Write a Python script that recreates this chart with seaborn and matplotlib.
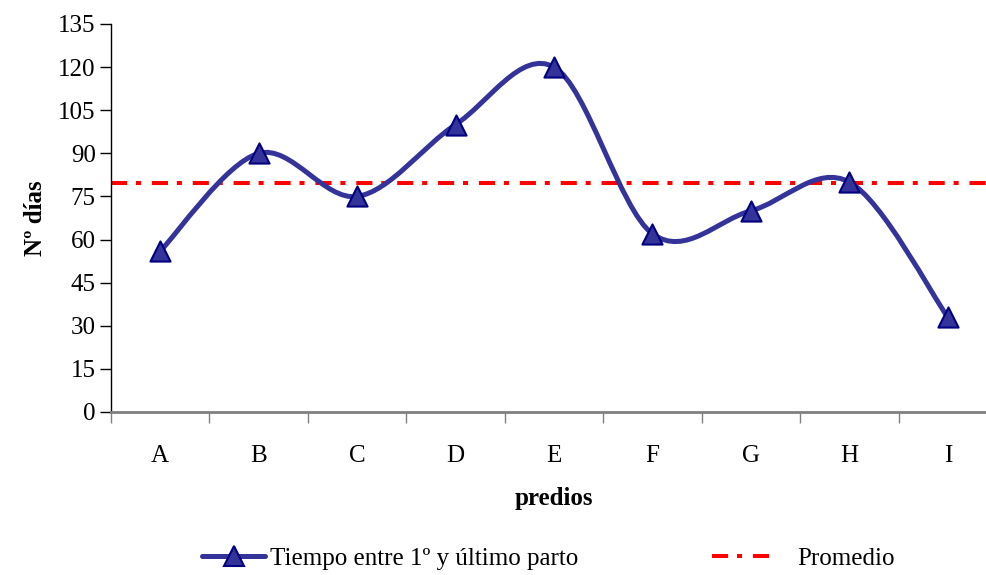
import numpy as np
import pandas as pd
import matplotlib
matplotlib.use("Agg")
import matplotlib.pyplot as plt
import seaborn as sns
from matplotlib.path import Path
from matplotlib.patches import PathPatch
from matplotlib.lines import Line2D

# data
predios = ["A", "B", "C", "D", "E", "F", "G", "H", "I"]
dias = [56, 90, 75, 100, 120, 62, 70, 80, 33]
promedio = 79.5
y_ticks = [0, 15, 30, 45, 60, 75, 90, 105, 120, 135]

BLUE = "#333399"
NAVY = "#000080"
RED = "#FF0000"

sns.set_theme(style="white")
plt.rcParams["font.family"] = ["Liberation Serif", "DejaVu Serif"]
plt.rcParams["font.size"] = 18
plt.rcParams["text.color"] = "black"
plt.rcParams["axes.labelcolor"] = "black"
plt.rcParams["xtick.labelcolor"] = "black"
plt.rcParams["ytick.labelcolor"] = "black"


def smooth_path(xs, ys):
    """Bezier path through the points (Excel-like smoothed line)"""
    n = len(xs)
    verts = [(xs[0], ys[0])]
    codes = [Path.MOVETO]
    for i in range(n - 1):
        a = i - 1 if i > 0 else i
        d = i + 2 if i + 2 < n else i + 1
        c1 = (xs[i] + (xs[i + 1] - xs[a]) / 6, ys[i] + (ys[i + 1] - ys[a]) / 6)
        c2 = (xs[i + 1] - (xs[d] - xs[i]) / 6, ys[i + 1] - (ys[d] - ys[i]) / 6)
        verts += [c1, c2, (xs[i + 1], ys[i + 1])]
        codes += [Path.CURVE4] * 3
    return Path(verts, codes)


df = pd.DataFrame({"predio": predios, "dias": dias, "pos": np.arange(len(predios))})

fig = plt.figure(figsize=(9.86, 5.75), dpi=100)
ax = fig.add_axes([0.1126, 0.2835, 0.8986, 0.6748])

# red dash-dot average line
ax.axhline(promedio, color=RED, lw=2.9, dashes=(4.0, 2.2, 1.25, 2.7), zorder=2)

# smoothed series
patch = PathPatch(smooth_path(df["pos"].to_numpy(float), df["dias"].to_numpy(float)),
                  facecolor="none", edgecolor=BLUE, lw=3.6, zorder=3,
                  capstyle="round", joinstyle="round")
ax.add_patch(patch)
sns.scatterplot(data=df, x="pos", y="dias", marker="^", s=210, color=BLUE,
                edgecolor=NAVY, linewidth=1.5, zorder=4, ax=ax, legend=False)

ax.set_xlim(-0.5, len(predios) - 0.5)
ax.set_ylim(0, 135)
ax.set_yticks(y_ticks)
ax.set_yticklabels([str(t) for t in y_ticks])
ax.set_xticks(np.arange(len(predios) + 1) - 0.5)
ax.set_xticklabels([])
ax.set_xticks(np.arange(len(predios)), minor=True)
ax.set_xticklabels(predios, minor=True)
ax.tick_params(axis="x", which="major", bottom=True, direction="out",
               length=8, width=1, color="#808080")
ax.tick_params(axis="x", which="minor", bottom=True, length=0, pad=24,
               labelsize=18, labelcolor="black")
ax.tick_params(axis="y", left=True, direction="out", length=8, width=1,
               color="black", labelsize=18, pad=3, labelcolor="black")

for s in ["top", "right"]:
    ax.spines[s].set_visible(False)
ax.spines["left"].set_color("black")
ax.spines["left"].set_linewidth(1)
ax.spines["bottom"].set_color("#808080")
ax.spines["bottom"].set_linewidth(2)

ax.set_xlabel("predios", fontweight="bold", fontsize=18, labelpad=14, color="black")
ax.set_ylabel("Nº días", fontweight="bold", fontsize=18, labelpad=8, color="black")
ax.set_facecolor("white")

h1 = Line2D([], [], color=BLUE, lw=3.6, marker="^", markersize=14,
            markerfacecolor=BLUE, markeredgecolor=NAVY, markeredgewidth=1.5)
h2 = Line2D([], [], color=RED, lw=2.9, dashes=(4.0, 2.2, 1.25, 2.7))
fig.legend([h1], ["Tiempo entre 1º y último parto"], loc="center left",
           bbox_to_anchor=(0.195, 0.028), frameon=False, fontsize=18,
           handlelength=2.5, handletextpad=0.2, borderaxespad=0, labelcolor="black")
fig.legend([h2], ["Promedio"], loc="center left",
           bbox_to_anchor=(0.712, 0.028), frameon=False, fontsize=18,
           handlelength=2.3, handletextpad=1.1, borderaxespad=0, labelcolor="black")

fig.savefig("out.png", dpi=100, facecolor="white")
